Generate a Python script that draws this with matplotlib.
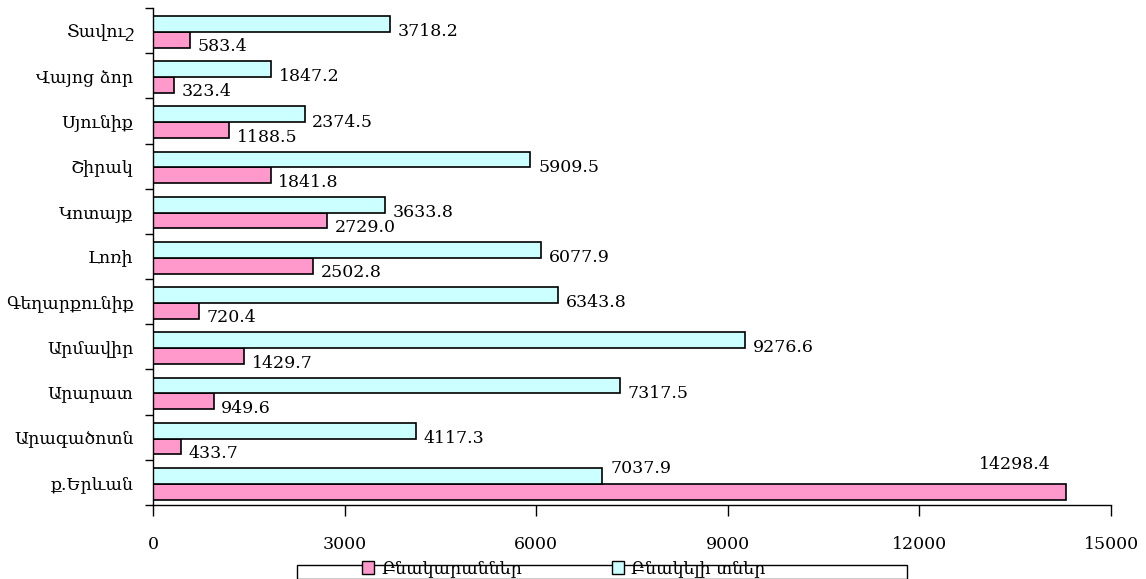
import matplotlib
matplotlib.use("Agg")
import matplotlib.pyplot as plt
from matplotlib.patches import Rectangle, Patch
import numpy as np

plt.rcParams['font.family'] = ['DejaVu Serif', 'DejaVu Sans']

regions = ["ք.Երևան", "Արագածոտն", "Արարատ", "Արմավիր", "Գեղարքունիք",
           "Լոռի", "Կոտայք", "Շիրակ", "Սյունիք", "Վայոց ձոր", "Տավուշ"]
apartments = [14298.4, 433.7, 949.6, 1429.7, 720.4, 2502.8, 2729.0, 1841.8, 1188.5, 323.4, 583.4]
houses = [7037.9, 4117.3, 7317.5, 9276.6, 6343.8, 6077.9, 3633.8, 5909.5, 2374.5, 1847.2, 3718.2]
xticks = [0, 3000, 6000, 9000, 12000, 15000]
series_names = ["Բնակարաններ", "Բնակելի տներ"]

pink = "#FF99CC"
cyan = "#CCFFFF"
fs = 12.5

W, H = 1146, 579
fig = plt.figure(figsize=(W / 100, H / 100), dpi=100)
ax = fig.add_axes([153 / W, 1 - 505 / H, (1111 - 153) / W, (505 - 8) / H])

y = np.arange(len(regions))
bh = 0.35
off = 0.175
sh = -0.03
ax.barh(y - off + sh, apartments, height=bh, color=pink, edgecolor="black", linewidth=1.2)
ax.barh(y + off + sh, houses, height=bh, color=cyan, edgecolor="black", linewidth=1.2)

for i, (yi, v) in enumerate(zip(y, houses)):
    dy = 5 if apartments[i] > 14000 else -5.5
    ax.annotate(f"{v:.1f}", (v, yi + off + sh), xytext=(5.5, dy), textcoords="offset points",
                ha="left", va="center", fontsize=fs)
for yi, v in zip(y, apartments):
    if v > 14000:
        ax.annotate(f"{v:.1f}", (v, yi + off + sh), xytext=(-37, 8), textcoords="offset points",
                    ha="center", va="center", fontsize=fs)
    else:
        ax.annotate(f"{v:.1f}", (v, yi - off + sh), xytext=(5.5, -5), textcoords="offset points",
                    ha="left", va="center", fontsize=fs)

ax.set_xlim(0, 15000)
ax.set_ylim(-0.5, len(regions) - 0.5)
ax.set_xticks(xticks)
ax.set_xticklabels([str(t) for t in xticks], fontsize=fs)
ax.set_yticks(y)
ax.set_yticklabels(regions, fontsize=fs)
ax.set_yticks(np.arange(-0.5, len(regions), 1.0), minor=True)
ax.tick_params(axis="y", which="major", length=0, pad=14)
ax.tick_params(axis="y", which="minor", length=6, width=1, direction="out")
ax.tick_params(axis="x", which="major", length=8, width=1, direction="out", pad=14)
ax.spines["top"].set_visible(False)
ax.spines["right"].set_visible(False)
ax.spines["left"].set_linewidth(1)
ax.spines["bottom"].set_linewidth(1)

# legend frame
fig.patches.append(Rectangle((297 / W, 0), (907 - 297) / W, 1 - 565 / H,
                             transform=fig.transFigure, facecolor="white",
                             edgecolor="black", linewidth=1, zorder=1))
handles = [Patch(facecolor=pink, edgecolor="black"), Patch(facecolor=cyan, edgecolor="black")]
fig.legend(handles, series_names, loc="center left", bbox_to_anchor=(362 / W, 1 - 569 / H),
           ncol=2, frameon=False, fontsize=fs, handlelength=0.7, handleheight=0.7,
           handletextpad=0.4, columnspacing=5.2, borderpad=0, borderaxespad=0)

fig.savefig("out.png", dpi=100)
